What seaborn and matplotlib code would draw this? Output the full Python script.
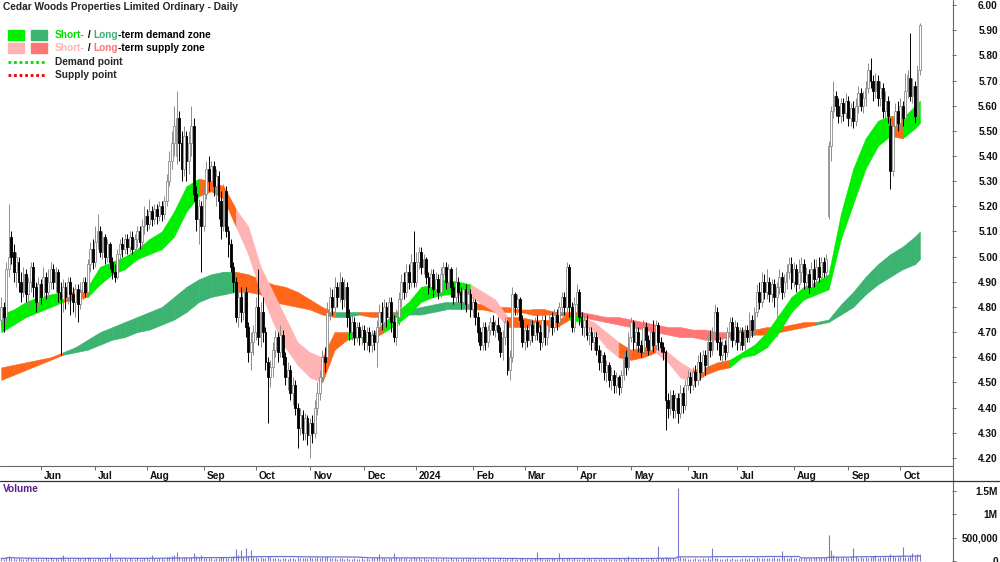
import matplotlib
matplotlib.use("Agg")
import matplotlib.pyplot as plt
from matplotlib.lines import Line2D
from matplotlib.patches import Rectangle
import matplotlib.transforms as mtrans
import numpy as np
import pandas as pd
import seaborn as sns

TITLE = "Cedar Woods Properties Limited Ordinary - Daily"
START, END = "2023-05-10", "2024-10-11"

# daily candles, prices in cents
opens = [
    475, 480, 476, 495, 508, 502, 494, 498, 490, 486, 493, 485, 490, 496, 488, 482, 489, 484, 492, 486,
    490, 495, 490, 494, 486, 483, 488, 484, 490, 485, 482, 487, 481, 486, 490, 486, 497, 503, 498, 506,
    510, 502, 508, 500, 505, 498, 494, 492, 501, 505, 503, 507, 504, 508, 503, 507, 510, 506, 512, 516,
    513, 518, 515, 519, 516, 520, 517, 522, 530, 538, 545, 540, 555, 545, 535, 548, 538, 545, 552, 525,
    515, 520, 512, 525, 535, 530, 536, 528, 532, 522, 512, 526, 510, 505, 496, 490, 476, 484, 478, 486,
    472, 462, 466, 470, 480, 468, 478, 470, 458, 452, 456, 463, 468, 462, 469, 460, 452, 455, 446, 449,
    440, 432, 437, 430, 436, 429, 434, 430, 440, 446, 452, 460, 460, 478, 484, 480, 488, 484, 490, 483,
    488, 476, 470, 474, 468, 472, 468, 471, 466, 470, 465, 469, 466, 472, 478, 474, 480, 476, 482, 474,
    468, 476, 483, 490, 486, 494, 490, 498, 490, 498, 502, 496, 499, 492, 488, 493, 487, 491, 486, 493,
    496, 490, 495, 488, 484, 490, 486, 482, 487, 481, 485, 479, 482, 476, 470, 465, 472, 466, 471, 474,
    471, 473, 470, 462, 468, 474, 455, 460, 485, 480, 483, 475, 466, 471, 467, 473, 469, 474, 470, 466,
    475, 468, 473, 476, 472, 477, 474, 480, 484, 480, 496, 480, 472, 481, 486, 476, 472, 475, 469, 470,
    466, 468, 463, 458, 461, 454, 457, 451, 453, 449, 452, 448, 453, 460, 456, 468, 474, 466, 470, 465,
    462, 472, 467, 463, 470, 465, 473, 466, 464, 462, 443, 440, 445, 439, 444, 438, 446, 441, 449, 452,
    449, 454, 451, 458, 454, 461, 457, 466, 463, 470, 478, 466, 461, 465, 462, 470, 474, 467, 472, 466,
    470, 465, 471, 468, 475, 471, 478, 486, 482, 490, 486, 490, 485, 489, 484, 488, 492, 486, 490, 494,
    497, 490, 495, 489, 494, 497, 490, 493, 488, 495, 491, 496, 492, 498, 494, 516, 544, 558, 564, 560,
    556, 561, 557, 562, 555, 559, 554, 560, 565, 560, 563, 567, 574, 570, 566, 570, 563, 567, 558, 562,
    552, 534, 552, 558, 553, 560, 555, 566, 571, 564, 568, 556, 574,
]
closes = [
    480, 476, 495, 500, 500, 494, 500, 490, 486, 493, 485, 490, 496, 488, 482, 489, 484, 492, 486, 490,
    495, 490, 494, 486, 483, 488, 484, 490, 485, 482, 487, 481, 486, 490, 486, 497, 503, 498, 506, 510,
    502, 508, 500, 505, 498, 494, 492, 501, 505, 503, 507, 504, 508, 503, 507, 510, 506, 512, 516, 513,
    518, 515, 519, 516, 520, 517, 522, 530, 538, 545, 552, 555, 545, 535, 548, 538, 545, 552, 525, 515,
    520, 512, 525, 535, 530, 536, 528, 532, 522, 512, 526, 510, 505, 496, 490, 476, 484, 478, 486, 472,
    462, 466, 470, 480, 468, 478, 470, 458, 452, 456, 463, 468, 462, 469, 460, 452, 455, 446, 449, 440,
    432, 437, 430, 436, 429, 434, 430, 440, 446, 452, 460, 458, 478, 484, 480, 488, 484, 490, 483, 488,
    476, 470, 474, 468, 472, 468, 471, 466, 470, 465, 469, 466, 472, 478, 474, 480, 476, 482, 474, 468,
    476, 483, 490, 486, 494, 490, 498, 490, 498, 502, 496, 499, 492, 488, 493, 487, 491, 486, 493, 496,
    490, 495, 488, 484, 490, 486, 482, 487, 481, 485, 479, 482, 476, 470, 465, 472, 466, 471, 474, 471,
    473, 470, 462, 468, 474, 455, 460, 485, 480, 483, 475, 466, 471, 467, 473, 469, 474, 470, 466, 475,
    468, 473, 476, 472, 477, 474, 480, 484, 480, 496, 480, 472, 481, 486, 476, 472, 475, 469, 470, 466,
    468, 463, 458, 461, 454, 457, 451, 453, 449, 452, 448, 453, 460, 456, 468, 474, 466, 470, 465, 462,
    472, 467, 463, 470, 465, 473, 466, 464, 462, 443, 440, 445, 439, 444, 438, 446, 441, 449, 452, 449,
    454, 451, 458, 454, 461, 457, 466, 463, 470, 478, 466, 461, 465, 462, 470, 474, 467, 472, 466, 470,
    465, 471, 468, 475, 471, 478, 486, 482, 490, 486, 490, 485, 489, 484, 488, 492, 486, 490, 494, 497,
    490, 495, 489, 494, 497, 490, 493, 488, 495, 491, 496, 492, 498, 494, 499, 544, 558, 564, 560, 556,
    561, 557, 562, 555, 559, 554, 560, 565, 560, 563, 567, 574, 570, 566, 570, 563, 567, 558, 562, 556,
    534, 552, 558, 553, 560, 555, 566, 572, 564, 568, 556, 574, 592,
]
highs = [
    484, 482, 498, 521, 510, 505, 502, 500, 494, 496, 495, 492, 498, 498, 490, 492, 491, 496, 494, 495,
    498, 497, 496, 495, 490, 491, 490, 492, 492, 488, 489, 489, 490, 492, 492, 499, 506, 507, 512, 517,
    512, 510, 509, 507, 506, 500, 497, 503, 507, 508, 509, 509, 510, 510, 509, 512, 512, 515, 520, 519,
    523, 520, 521, 521, 522, 522, 524, 533, 542, 550, 560, 566, 558, 550, 552, 550, 550, 560, 555, 528,
    523, 522, 528, 538, 540, 538, 538, 535, 534, 526, 529, 528, 512, 507, 498, 492, 487, 488, 488, 488,
    474, 470, 473, 484, 495, 482, 484, 472, 460, 459, 466, 471, 470, 473, 471, 462, 458, 457, 452, 451,
    442, 440, 439, 438, 437, 436, 437, 443, 450, 455, 463, 464, 482, 488, 487, 492, 490, 494, 492, 491,
    490, 479, 477, 476, 474, 474, 473, 473, 472, 472, 471, 471, 475, 481, 482, 483, 482, 484, 484, 477,
    479, 486, 493, 494, 497, 497, 501, 510, 502, 504, 504, 501, 500, 494, 495, 495, 494, 493, 496, 498,
    498, 497, 496, 490, 496, 492, 488, 490, 489, 487, 487, 484, 483, 478, 472, 474, 474, 473, 476, 477,
    475, 476, 472, 471, 476, 475, 463, 488, 486, 485, 484, 477, 473, 473, 475, 475, 476, 477, 473, 477,
    477, 475, 478, 478, 479, 479, 482, 486, 486, 498, 497, 482, 484, 489, 487, 478, 477, 477, 472, 472,
    470, 470, 465, 463, 462, 459, 458, 456, 455, 454, 453, 455, 462, 463, 470, 476, 475, 472, 472, 467,
    475, 474, 469, 472, 475, 475, 474, 468, 466, 463, 446, 447, 447, 446, 446, 449, 448, 451, 455, 454,
    456, 457, 461, 462, 463, 463, 469, 471, 472, 481, 480, 468, 467, 467, 472, 476, 476, 475, 474, 472,
    472, 473, 473, 478, 477, 480, 489, 490, 494, 493, 495, 492, 491, 491, 490, 495, 494, 493, 497, 500,
    500, 498, 497, 499, 500, 499, 496, 495, 498, 499, 499, 500, 500, 500, 501, 546, 560, 570, 566, 563,
    563, 563, 565, 564, 561, 562, 563, 568, 567, 566, 570, 577, 579, 572, 573, 572, 570, 569, 566, 564,
    555, 556, 561, 562, 563, 562, 573, 574, 589, 571, 570, 576, 593,
]
lows = [
    472, 470, 474, 492, 497, 490, 488, 486, 482, 484, 482, 480, 486, 484, 478, 480, 481, 482, 483, 484,
    487, 487, 486, 482, 461, 478, 479, 481, 477, 478, 476, 474, 479, 483, 484, 485, 494, 495, 496, 503,
    500, 499, 497, 498, 495, 491, 490, 491, 499, 500, 501, 501, 502, 501, 500, 504, 503, 504, 509, 510,
    511, 512, 513, 513, 514, 514, 515, 520, 528, 535, 540, 537, 538, 530, 532, 530, 533, 540, 522, 510,
    505, 494, 510, 523, 526, 527, 524, 520, 515, 507, 510, 508, 500, 494, 486, 474, 472, 474, 475, 468,
    458, 455, 461, 467, 465, 464, 466, 455, 434, 448, 452, 460, 458, 460, 457, 449, 447, 443, 441, 437,
    424, 429, 427, 427, 425, 420, 426, 428, 437, 443, 450, 454, 458, 475, 477, 478, 480, 482, 479, 480,
    472, 467, 467, 465, 466, 465, 465, 463, 463, 462, 462, 463, 456, 470, 471, 472, 472, 474, 470, 466,
    465, 473, 480, 483, 484, 487, 488, 488, 488, 495, 493, 493, 489, 485, 485, 484, 485, 483, 484, 490,
    487, 487, 484, 481, 481, 482, 479, 480, 478, 479, 476, 476, 473, 466, 463, 463, 463, 464, 469, 469,
    468, 467, 460, 459, 465, 453, 451, 458, 477, 477, 472, 464, 463, 464, 465, 466, 467, 467, 463, 464,
    465, 465, 470, 469, 470, 471, 472, 477, 477, 478, 476, 470, 470, 478, 473, 469, 468, 467, 465, 463,
    463, 461, 455, 454, 451, 450, 448, 447, 446, 446, 445, 446, 451, 453, 455, 466, 463, 463, 462, 460,
    460, 464, 461, 461, 462, 463, 463, 462, 459, 431, 436, 437, 436, 436, 434, 436, 438, 439, 447, 446,
    447, 448, 449, 451, 452, 453, 455, 460, 461, 467, 463, 459, 458, 459, 460, 467, 464, 465, 463, 463,
    463, 463, 466, 466, 468, 469, 476, 479, 480, 483, 483, 482, 482, 480, 468, 485, 483, 484, 487, 491,
    487, 488, 486, 487, 490, 487, 487, 485, 486, 488, 489, 490, 490, 492, 492, 515, 538, 555, 556, 553,
    553, 554, 555, 552, 552, 551, 552, 557, 558, 557, 560, 565, 567, 562, 563, 560, 560, 555, 554, 553,
    527, 532, 549, 550, 551, 552, 553, 563, 562, 561, 553, 555, 572,
]
# daily volume, thousands of shares
volume = [
    60, 45, 80, 110, 70, 55, 40, 65, 50, 35, 45, 70, 55, 40, 60, 50, 35, 45, 70, 40,
    55, 40, 65, 50, 90, 120, 45, 60, 35, 50, 40, 75, 55, 45, 60, 80, 65, 50, 45, 70,
    60, 50, 40, 55, 170, 65, 45, 50, 60, 40, 55, 45, 70, 50, 35, 60, 45, 40, 55, 65,
    50, 120, 60, 45, 55, 70, 50, 80, 90, 110, 130, 200, 90, 70, 60, 80, 55, 90, 170, 100,
    85, 120, 70, 60, 55, 65, 45, 60, 70, 80, 90, 75, 60, 55, 100, 250, 120, 230, 90, 280,
    110, 230, 95, 80, 70, 85, 60, 75, 110, 90, 70, 55, 65, 50, 60, 75, 45, 55, 65, 50,
    80, 60, 70, 55, 65, 90, 60, 75, 85, 70, 95, 80, 110, 75, 60, 65, 50, 60, 55, 45,
    60, 50, 45, 55, 40, 50, 60, 45, 55, 40, 60, 70, 90, 150, 65, 55, 50, 60, 70, 170,
    80, 60, 70, 55, 60, 50, 65, 90, 70, 55, 45, 60, 50, 40, 55, 45, 60, 50, 40, 55,
    50, 45, 60, 40, 55, 50, 45, 60, 40, 50, 55, 45, 60, 50, 40, 55, 45, 60, 50, 40,
    45, 40, 55, 35, 50, 60, 45, 70, 50, 40, 45, 55, 40, 50, 35, 45, 60, 200, 55, 40,
    50, 45, 40, 55, 60, 45, 180, 60, 50, 70, 60, 45, 55, 40, 50, 45, 60, 40, 55, 45,
    40, 50, 45, 35, 55, 40, 45, 50, 35, 45, 60, 40, 55, 45, 100, 50, 45, 60, 40, 55,
    45, 50, 40, 60, 50, 45, 320, 60, 55, 90, 70, 60, 55, 50, 1570, 80, 60, 55, 45, 50,
    40, 55, 45, 50, 60, 45, 55, 50, 290, 70, 60, 45, 50, 40, 55, 50, 60, 45, 50, 40,
    55, 60, 45, 70, 50, 60, 80, 65, 70, 60, 75, 55, 65, 80, 70, 60, 210, 90, 70, 60,
    80, 65, 70, 60, 55, 70, 65, 75, 60, 70, 80, 65, 70, 60, 90, 560, 240, 120, 90, 80,
    70, 85, 90, 75, 80, 280, 100, 70, 85, 75, 90, 70, 80, 100, 130, 75, 90, 85, 80, 95,
    150, 110, 90, 80, 100, 310, 90, 80, 110, 180, 100, 140, 140,
]

# zone edges sampled every 5th session (plus the last), cents
RIB_STEP = 5
short_hi = [477, 479, 482, 484, 485, 486, 486, 488, 496, 498, 500, 503, 507, 510, 518,
            528, 531, 530, 528, 519, 512, 496, 486, 476, 466, 462, 460, 470, 470, 470,
            469, 474, 478, 482, 488, 489, 491, 490, 489, 486, 483, 476, 476, 475, 475,
            475, 477, 476, 474, 470, 466, 463, 464, 465, 462, 458, 455, 456, 458, 459,
            462, 465, 470, 477, 484, 488, 490, 493, 517, 535, 547, 554, 556, 555, 560, 562]
short_lo = [470, 473, 476, 478, 480, 482, 483, 484, 489, 493, 495, 499, 501, 503, 508,
            518, 524, 526, 523, 512, 501, 486, 474, 464, 457, 452, 450, 463, 467, 468,
            467, 470, 473, 477, 482, 484, 485, 485, 484, 481, 478, 472, 472, 472, 472,
            472, 475, 474, 470, 464, 460, 459, 460, 462, 458, 452, 450, 453, 455, 456,
            460, 461, 464, 470, 478, 483, 485, 487, 507, 521, 535, 544, 548, 547, 551, 553]
# d = demand, s = supply, x = changing
short_state = list("dddddxxdddddddd" "dxxxsssssssxxdd" "xdddddddsssxxxx"
                   "xdsssxxxsssxxxd" "ddddddddddddxdd" "d")
long_hi = [456, 457, 458, 459, 460, 462, 464, 467, 470, 472, 474, 476, 478, 480, 484,
           488, 491, 493, 494, 494, 493, 491, 489, 488, 486, 483, 480, 478, 478, 478,
           478, 478, 478, 479, 480, 481, 482, 482, 482, 481, 480, 480, 479, 479, 479,
           478, 478, 478, 477, 476, 476, 475, 474, 473, 472, 472, 471, 471, 470, 470,
           471, 471, 472, 472, 473, 474, 474, 475, 481, 486, 492, 497, 501, 504, 508, 510]
long_lo = [451, 453, 455, 457, 459, 461, 462, 463, 465, 467, 468, 470, 471, 473, 475,
           478, 482, 484, 485, 486, 486, 485, 482, 481, 480, 479, 477, 476, 476, 477,
           476, 476, 476, 477, 477, 478, 479, 479, 479, 479, 478, 478, 478, 477, 477,
           477, 476, 476, 475, 474, 473, 472, 471, 470, 469, 468, 468, 467, 467, 468,
           468, 469, 469, 470, 471, 472, 473, 474, 477, 480, 485, 489, 492, 495, 497, 499]
long_state = list("xxxxxdddddddddd" "ddddxxxxxxxxddx" "xxddddddxxxxxxx"
                  "xxssssssssssssx" "xxxxxxddddddddd" "d")

SHORT_COL = {"d": "#00ee00", "s": "#ffb3b3", "x": "#ff661a"}
LONG_COL = {"d": "#3cb371", "s": "#ff7474", "x": "#ff661a"}

W, H = 1000, 562


def fx(px):
    return px / W


def fy(py):
    return 1 - py / H


def rich_text(fig, x_px, y_px, parts, **kw):
    r = fig.canvas.get_renderer()
    x = x_px
    for s, col in parts:
        t = fig.text(fx(x), fy(y_px), s, color=col, ha="left", va="center", **kw)
        x += t.get_window_extent(renderer=r).width


def main():
    n = len(closes)
    for arr in (opens, highs, lows, volume):
        assert len(arr) == n, len(arr)
    rib_x = list(range(0, n - 1, RIB_STEP)) + [n - 1]
    for arr in (short_hi, short_lo, short_state, long_hi, long_lo, long_state):
        assert len(arr) == len(rib_x), (len(arr), len(rib_x))

    dates = pd.bdate_range(START, END)
    assert len(dates) == n

    sns.set_theme(style="white")
    plt.rcParams["font.family"] = ["Liberation Sans", "DejaVu Sans"]

    fig = plt.figure(figsize=(W / 100, H / 100), dpi=100)
    ax = fig.add_axes([0, fy(466), fx(952), 466 / H])
    axv = fig.add_axes([0, 0, fx(952), 81 / H])

    x = np.arange(n)
    o, c = np.array(opens), np.array(closes)
    hi, lo = np.array(highs), np.array(lows)
    up = c >= o

    # zones
    for vals_hi, vals_lo, states, cmap in ((long_hi, long_lo, long_state, LONG_COL),
                                           (short_hi, short_lo, short_state, SHORT_COL)):
        for k in range(len(rib_x) - 1):
            col = cmap[states[k]]
            ax.fill_between(rib_x[k:k + 2], vals_lo[k:k + 2], vals_hi[k:k + 2],
                            color=col, edgecolor=col, linewidth=0.4, zorder=1)

    # candles
    ax.vlines(x[up], lo[up], hi[up], color="#8c8c8c", lw=0.7, zorder=3)
    ax.vlines(x[~up], lo[~up], hi[~up], color="black", lw=0.7, zorder=3)
    ax.bar(x[up], c[up] - o[up], bottom=o[up], width=0.75, color="white",
           edgecolor="#8c8c8c", linewidth=0.6, zorder=4)
    ax.bar(x[~up], o[~up] - c[~up], bottom=c[~up], width=0.75, color="black",
           edgecolor="black", linewidth=0.6, zorder=4)

    ax.set_xlim(-0.5, 385)
    ax.set_ylim(416.8, 602)
    ax.set_yticks(np.arange(420, 601, 10))
    ax.set_yticklabels([f"{v / 100:.2f}" for v in np.arange(420, 601, 10)])

    month_idx = [i for i in range(1, n) if dates[i].month != dates[i - 1].month]
    month_lbl = [str(dates[i].year) if dates[i].month == 1 else dates[i].strftime("%b")
                 for i in month_idx]
    ax.set_xticks(month_idx)
    ax.set_xticklabels(month_lbl)

    for a in (ax, axv):
        for s in a.spines.values():
            s.set_visible(False)
        a.yaxis.tick_right()
        a.tick_params(axis="y", which="both", right=True, direction="out", length=3,
                      width=0.6, color="#555555", pad=30, labelsize=7.3, labelcolor="#111111")
        a.patch.set_alpha(0)

    ax.tick_params(axis="x", bottom=True, direction="out", length=3, width=0.6,
                   color="#555555", pad=0.5, labelsize=7.3, labelcolor="#111111")
    shift = mtrans.ScaledTranslation(3 / 100, 0, fig.dpi_scale_trans)
    for lbl in ax.get_xticklabels():
        lbl.set_ha("left")
        lbl.set_fontweight("bold")
        lbl.set_transform(lbl.get_transform() + shift)

    # volume
    vol = np.array(volume, dtype=float)
    vol_ma = pd.Series(vol).rolling(50, min_periods=1).mean()
    axv.vlines(x, 0, vol, color="#7a7ad2", lw=0.8, zorder=2)
    sns.lineplot(x=x, y=vol_ma.values, ax=axv, color="#7070cc", lw=0.9, zorder=3)
    axv.set_xlim(ax.get_xlim())
    axv.set_ylim(-21, 1717)
    axv.set_xticks([])
    axv.set_yticks([0, 500, 1000, 1500])
    axv.set_yticklabels(["0", "500,000", "1M", "1.5M"])
    axv.set_xlabel("")
    axv.set_ylabel("")
    for a in (ax, axv):
        for lbl in a.get_yticklabels():
            lbl.set_ha("right")
            lbl.set_fontweight("bold")

    # frame lines
    lc = "#666666"
    fig.add_artist(Line2D([fx(952.5)] * 2, [0, 1], color=lc, lw=0.8))
    fig.add_artist(Line2D([0, fx(952.5)], [fy(466)] * 2, color=lc, lw=0.8))
    fig.add_artist(Line2D([0, 1], [fy(480.5)] * 2, color="#333333", lw=0.9))

    # title and legend
    fig.text(fx(3), fy(7), TITLE, fontsize=7.3, fontweight="bold", ha="left", va="center")
    sw = [(8, 30, "#00ee00"), (31, 30, "#3cb371"), (8, 43, "#ffb3b3"), (31, 43, "#ff7474")]
    for px, py, col in sw:
        fig.add_artist(Rectangle((fx(px), fy(py + 10)), 16 / W, 10 / H, color=col,
                                 transform=fig.transFigure))
    kw = dict(fontsize=7.3, fontweight="bold")
    rich_text(fig, 55, 35, [("Short-", "#00dd00"), (" / ", "black"), ("Long", "#3cb371"),
                            ("-term demand zone", "black")], **kw)
    rich_text(fig, 55, 48, [("Short-", "#ffb3b3"), (" / ", "black"), ("Long", "#ff7474"),
                            ("-term supply zone", "black")], **kw)
    fig.add_artist(Line2D([fx(8), fx(46)], [fy(62)] * 2, color="#00dd00", lw=2,
                          linestyle=(0, (1, 1))))
    fig.add_artist(Line2D([fx(8), fx(46)], [fy(75)] * 2, color="#ee0000", lw=2,
                          linestyle=(0, (1, 1))))
    fig.text(fx(55), fy(62), "Demand point", ha="left", va="center", **kw)
    fig.text(fx(55), fy(75), "Supply point", ha="left", va="center", **kw)
    fig.text(fx(3), fy(489), "Volume", color="#5a1e8c", ha="left", va="center", **kw)

    fig.savefig("out.png", dpi=100)
    plt.close(fig)


if __name__ == "__main__":
    main()
